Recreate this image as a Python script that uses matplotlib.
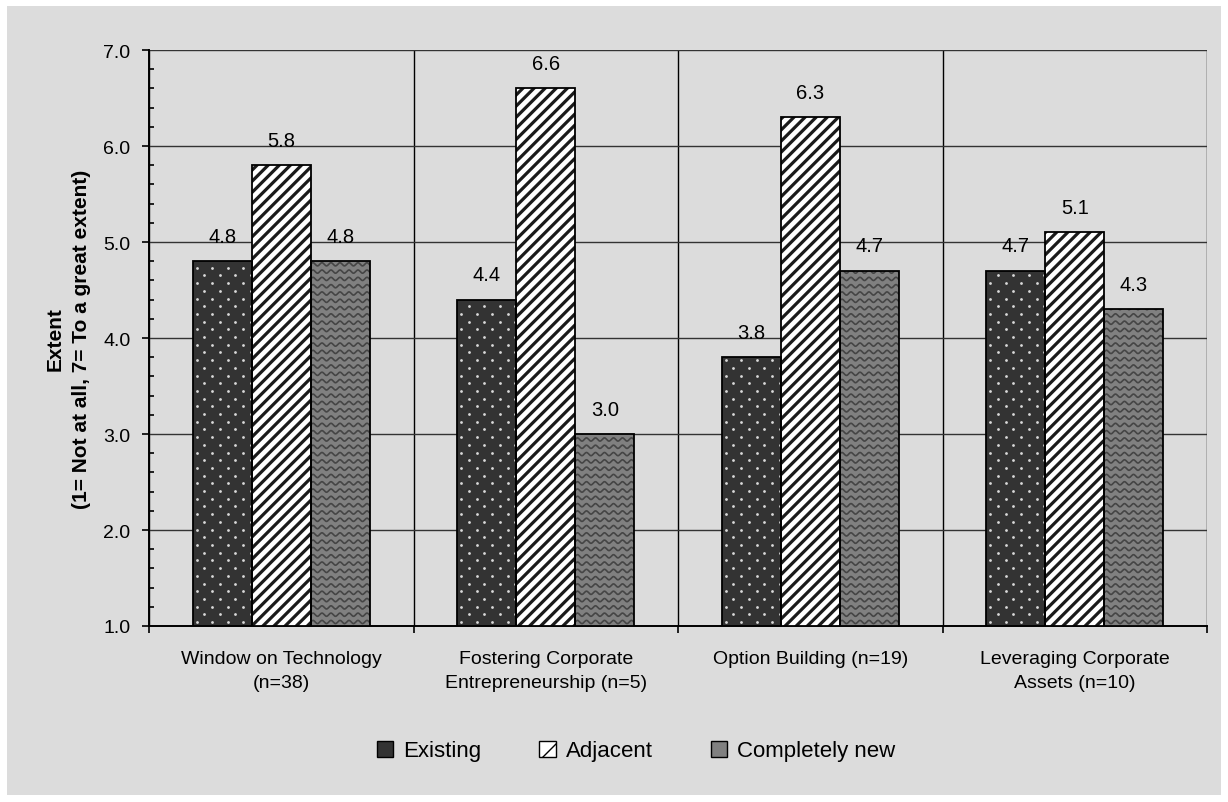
import numpy as np
import matplotlib
matplotlib.use('Agg')
import matplotlib.pyplot as plt
from matplotlib.patches import Rectangle
from matplotlib.ticker import MultipleLocator, FixedLocator

plt.rcParams['font.family'] = ['Liberation Sans', 'DejaVu Sans']

# Dados
categorias = ['Window on Technology\n(n=38)',
              'Fostering Corporate\nEntrepreneurship (n=5)',
              'Option Building (n=19)',
              'Leveraging Corporate\nAssets (n=10)']
series = ['Existing', 'Adjacent', 'Completely new']
existing = [4.8, 4.4, 3.8, 4.7]
adjacent = [5.8, 6.6, 6.3, 5.1]
completely_new = [4.8, 3.0, 4.7, 4.3]

bg = '#dcdcdc'
fig = plt.figure(figsize=(12.28, 8.03), dpi=100)
fig.patches.append(Rectangle((7/1228, 7/803), 1 - 14/1228, 1 - 14/803,
                             transform=fig.transFigure, facecolor=bg,
                             edgecolor='none', zorder=-5))
ax_w_px, ax_h_px = 1058, 576
ax = fig.add_axes([149/1228, 1 - 627/803, ax_w_px/1228, ax_h_px/803])
ax.set_facecolor(bg)

x = np.arange(len(categorias))
w = 0.223
base = 1.0
ax.set_xlim(-0.5, len(categorias) - 0.5)
ax.set_ylim(1, 7)
# tamanho de um pixel em unidades de dados (para as texturas)
px_x = len(categorias) / ax_w_px
px_y = 6.0 / ax_h_px

# Existing: fundo escuro com pontos claros
b1 = ax.bar(x - w, np.array(existing) - base, w, bottom=base, color='#333333',
            edgecolor='none', linewidth=0, zorder=3)
for p in b1.patches:
    x0, y0 = p.get_x(), p.get_y()
    ys = np.arange(y0 + 4 * px_y, y0 + p.get_height(), 7.7 * px_y)
    for k, yy in enumerate(ys):
        xs = np.arange(x0 + (4 + (k % 2) * 7.7) * px_x, x0 + p.get_width(), 15.5 * px_x)
        ax.plot(xs, np.full_like(xs, yy), ls='none', marker='o', ms=2.0,
                mec='none', mfc='#d9d9d9', zorder=4, clip_path=p)

# Adjacent: listras diagonais
plt.rcParams['hatch.linewidth'] = 2.3
b2 = ax.bar(x, np.array(adjacent) - base, w, bottom=base, color='white',
            edgecolor='#1a1a1a', hatch='///', linewidth=0, zorder=3)

# Completely new: cinza com ondas
b3 = ax.bar(x + w, np.array(completely_new) - base, w, bottom=base, color='#808080',
            edgecolor='none', linewidth=0, zorder=3)
for p in b3.patches:
    x0, y0 = p.get_x(), p.get_y()
    xs = np.linspace(x0, x0 + p.get_width(), 300)
    for yy in np.arange(y0 + 4 * px_y, y0 + p.get_height() + 4 * px_y, 7.3 * px_y):
        ln, = ax.plot(xs, yy + 1.6 * px_y * np.sin(2 * np.pi * (xs - x0) / (9 * px_x)),
                      color='#454545', lw=1.2, zorder=4)
        ln.set_clip_path(p)

# contornos pretos
for cont in (b1, b2, b3):
    for p in cont.patches:
        ax.add_patch(Rectangle((p.get_x(), p.get_y()), p.get_width(), p.get_height(),
                               fill=False, edgecolor='black', lw=1.3, zorder=5))

# rótulos de valor
for cont, vals in ((b1, existing), (b2, adjacent), (b3, completely_new)):
    for p, v in zip(cont.patches, vals):
        ax.annotate(f'{v:.1f}', (p.get_x() + p.get_width() / 2, v),
                    xytext=(0, 18), textcoords='offset points',
                    ha='center', va='center', fontsize=14.5, zorder=6)

# eixo y
ax.yaxis.set_major_locator(MultipleLocator(1))
ax.yaxis.set_minor_locator(MultipleLocator(0.2))
ax.yaxis.set_major_formatter(plt.FuncFormatter(lambda v, p: f'{v:.1f}'))
ax.tick_params(axis='y', which='major', direction='out', length=5, width=1.2,
               labelsize=14, pad=8.5)
ax.tick_params(axis='y', which='minor', direction='in', length=3.6, width=1.2)

# eixo x: ticks nas fronteiras, rótulos no centro
ax.xaxis.set_major_locator(FixedLocator(np.arange(-0.5, len(categorias), 1.0)))
ax.xaxis.set_minor_locator(FixedLocator(x))
ax.xaxis.set_major_formatter(plt.NullFormatter())
ax.set_xticklabels(categorias, minor=True)
ax.tick_params(axis='x', which='major', direction='out', length=5, width=1.2)
ax.tick_params(axis='x', which='minor', length=0, labelsize=14, pad=17)
for t in ax.get_xticklabels(minor=True):
    t.set_linespacing(1.55)

# grade
ax.grid(axis='y', which='major', color='#333333', lw=1.0, zorder=1)
ax.grid(axis='x', which='major', color='black', lw=1.0, zorder=1)
for s in ('top', 'right'):
    ax.spines[s].set_visible(False)
for s in ('left', 'bottom'):
    ax.spines[s].set_linewidth(1.4)

ax.set_ylabel('Extent\n(1= Not at all, 7= To a great extent)', fontsize=15,
              fontweight='bold', linespacing=1.5)
ax.yaxis.set_label_coords(-0.055, 0.5)

# legenda
plt.rcParams['hatch.linewidth'] = 1.0
h1 = Rectangle((0, 0), 1, 1, facecolor='#333333', edgecolor='black', lw=1)
h2 = Rectangle((0, 0), 1, 1, facecolor='white', edgecolor='black', lw=1, hatch='/')
h3 = Rectangle((0, 0), 1, 1, facecolor='#808080', edgecolor='black', lw=1)
fig.legend([h1, h2, h3], series, loc='center', bbox_to_anchor=(636/1228, 1 - 752/803),
           ncol=3, frameon=False, fontsize=16,
           handlelength=0.75, handleheight=0.75,
           columnspacing=2.6, handletextpad=0.45)

plt.savefig('out.png', dpi=100, facecolor='white')
